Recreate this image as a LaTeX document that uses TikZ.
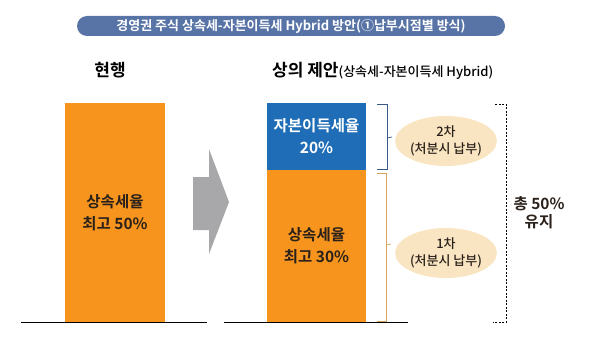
\documentclass[tikz,border=0pt]{standalone}
\usepackage{fontspec}
\setmainfont{Noto Sans CJK KR}[BoldFont={Noto Sans CJK KR Bold}]
\newfontfamily\krmed{Noto Sans CJK KR Medium}
\definecolor{pill}{HTML}{5874A6}
\definecolor{barorange}{HTML}{F7941D}
\definecolor{barblue}{HTML}{1E6DB6}
\definecolor{beige}{HTML}{F9E5C2}
\definecolor{darktext}{HTML}{2A211B}
\definecolor{tan}{HTML}{D6A65E}
\definecolor{bracketblue}{HTML}{3A5A86}
\definecolor{arrowgray}{HTML}{A8A8AA}
\tikzset{
  bar/.style={draw=none, inner sep=0pt, align=center, font=\bfseries\fontsize{15.5}{22}\selectfont},
  oval/.style={ellipse, fill=beige, draw=none, minimum width=92pt, minimum height=50pt, inner sep=0pt, align=center, text=darktext, font=\krmed\fontsize{13}{17}\selectfont},
  heading/.style={text=black, font=\bfseries\fontsize{17}{20}\selectfont, inner sep=0pt},
  baseline rule/.style={draw=black, line width=0.9pt},
}
\usetikzlibrary{shapes.geometric}
\begin{document}
\begin{tikzpicture}[x=1pt,y=-1pt]
\useasboundingbox (0,0) rectangle (600,361);
% title
\node[fill=pill, rounded corners=10pt, minimum width=428pt, minimum height=20pt, inner sep=0pt, text=white, font=\bfseries\fontsize{13}{15}\selectfont] (title) at (291,26) {경영권 주식 상속세-자본이득세 Hybrid 방안(①납부시점별 방식)};
% headings
\node[heading] (cur) at (110,70) {현행};
\node[heading, anchor=base west] (prop) at (272,76.5) {상의 제안{\fontsize{13}{15}\selectfont\mdseries\krmed(상속세-자본이득세 Hybrid)}};
% left bar
\node[bar, fill=barorange, text=darktext, minimum width=100pt, minimum height=219pt] (left) at (115,212.5) {상속세율\\최고 50\%};
% right bars
\node[bar, fill=barblue, text=white, minimum width=99pt, minimum height=67pt] (blue) at (316.5,136.5) {자본이득세율\\20\%};
\node[bar, fill=barorange, text=darktext, minimum width=99pt, minimum height=152pt] (orange) at (316.5,246) {상속세율\\최고 30\%};
% baselines
\coordinate (l1) at (21,322); \coordinate (l2) at (207,322);
\coordinate (r1) at (224,322); \coordinate (r2) at (408,322);
\draw[baseline rule] (l1) -- (l2);
\draw[baseline rule] (r1) -- (r2);
% arrow
\fill[arrowgray] (193,177) -- (209,177) -- (209,149) -- (229,202) -- (209,254) -- (209,230) -- (193,230) -- cycle;
% brackets
\draw[bracketblue, line width=0.7pt] (377,104) -- (387,104) -- (387,169) -- (377,169);
\draw[bracketblue, line width=0.7pt] (387,138) -- (392,137);
\draw[tan, line width=0.7pt] (377,173) -- (386,173) -- (386,321) -- (377,321);
\draw[tan, line width=0.7pt] (386,245) -- (391,244);
\draw[black, line width=0.7pt, dash pattern=on 2pt off 1.5pt] (495,104) -- (506,104) -- (506,322) -- (493,322);
% ovals
\node[oval] (second) at (446,141) {2차\\(처분시 납부)};
\node[oval] (first) at (446,253) {1차\\(처분시 납부)};
% total
\node[text=darktext, align=center, font=\bfseries\fontsize{15.5}{18}\selectfont] (total) at (539,213) {총 50\%\\유지};
\end{tikzpicture}
\end{document}
